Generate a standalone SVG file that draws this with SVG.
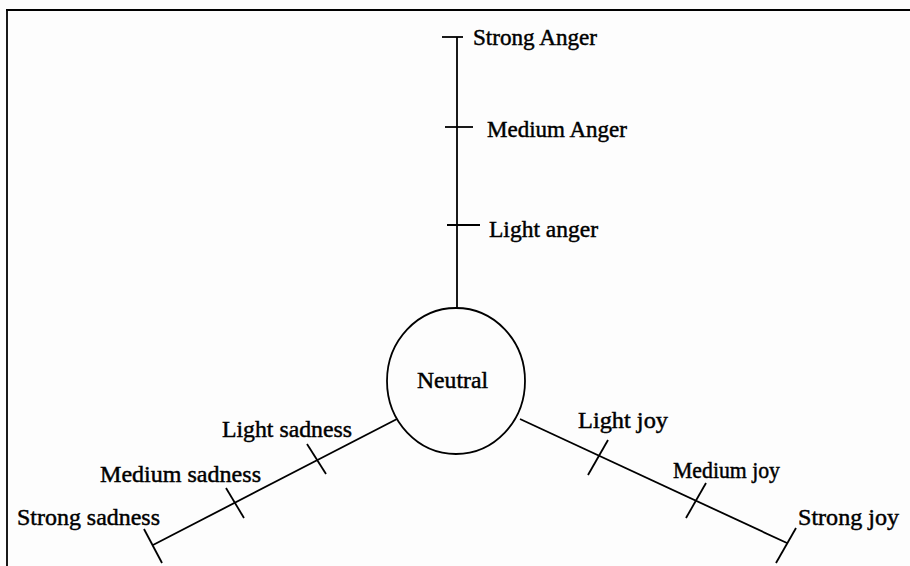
<svg xmlns="http://www.w3.org/2000/svg" width="910" height="566" viewBox="0 0 910 566">
<style>
.t{font-family:"Liberation Serif","Times New Roman",serif;font-size:23px;fill:#000;stroke:#000;stroke-width:0.45}
.l{stroke:#000;stroke-width:1.8;fill:none}
</style>
<rect width="910" height="566" fill="#fdfdfd"/>
<g id="frame">
<line class="l" x1="6" y1="10" x2="910" y2="10" stroke-width="2.2"/>
<line class="l" x1="7" y1="10" x2="7" y2="566"/>
</g>
<g id="connectors">
<line class="l" x1="457" y1="37" x2="457" y2="308"/>
<line class="l" x1="442" y1="37" x2="463" y2="37"/>
<line class="l" x1="445" y1="127" x2="473" y2="127"/>
<line class="l" x1="447" y1="225" x2="480" y2="225"/>
<line class="l" x1="397" y1="419" x2="153" y2="545"/>
<line class="l" x1="307" y1="444" x2="326" y2="474"/>
<line class="l" x1="226" y1="488" x2="244" y2="518"/>
<line class="l" x1="144" y1="529" x2="162" y2="563"/>
<line class="l" x1="520" y1="419" x2="787" y2="543"/>
<line class="l" x1="608" y1="440" x2="588" y2="475"/>
<line class="l" x1="706" y1="483" x2="686" y2="518"/>
<line class="l" x1="796" y1="528" x2="776" y2="563"/>
</g>
<g id="neutral">
<ellipse class="l" cx="456" cy="381" rx="69" ry="73" fill="#fff"/>
<text class="t" x="417" y="388" textLength="71" lengthAdjust="spacingAndGlyphs">Neutral</text>
</g>
<g id="strong-anger"><text class="t" x="473" y="45" textLength="124" lengthAdjust="spacingAndGlyphs">Strong Anger</text></g>
<g id="medium-anger"><text class="t" x="487" y="137" textLength="140" lengthAdjust="spacingAndGlyphs">Medium Anger</text></g>
<g id="light-anger"><text class="t" x="489" y="237" textLength="109" lengthAdjust="spacingAndGlyphs">Light anger</text></g>
<g id="light-sadness"><text class="t" x="222" y="437" textLength="130" lengthAdjust="spacingAndGlyphs">Light sadness</text></g>
<g id="medium-sadness"><text class="t" x="100" y="482" textLength="161" lengthAdjust="spacingAndGlyphs">Medium sadness</text></g>
<g id="strong-sadness"><text class="t" x="17" y="525" textLength="143" lengthAdjust="spacingAndGlyphs">Strong sadness</text></g>
<g id="light-joy"><text class="t" x="578" y="428" textLength="90" lengthAdjust="spacingAndGlyphs">Light joy</text></g>
<g id="medium-joy"><text class="t" x="673" y="478" textLength="107" lengthAdjust="spacingAndGlyphs">Medium joy</text></g>
<g id="strong-joy"><text class="t" x="798" y="525" textLength="101" lengthAdjust="spacingAndGlyphs">Strong joy</text></g>
</svg>
